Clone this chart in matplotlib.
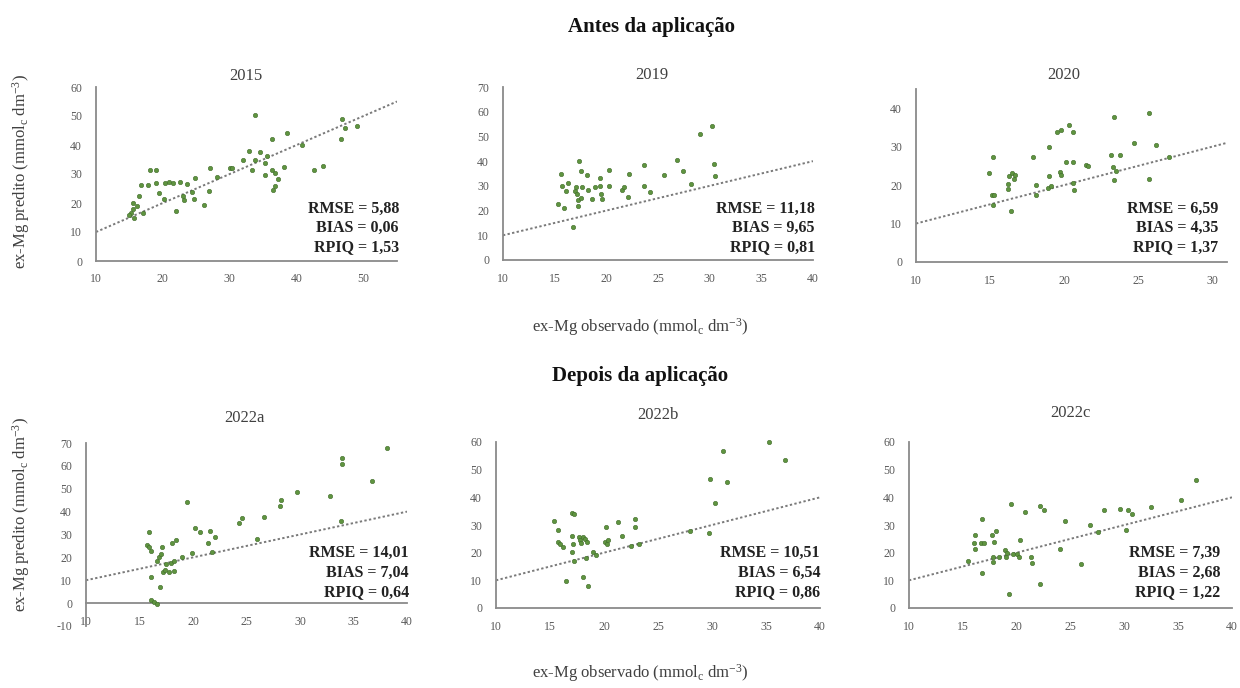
import matplotlib
matplotlib.use("Agg")
import matplotlib.pyplot as plt
import numpy as np

plt.rcParams['font.family'] = ['Liberation Serif', 'DejaVu Serif']
plt.rcParams['mathtext.fontset'] = 'custom'
plt.rcParams['mathtext.rm'] = 'Liberation Serif'
plt.rcParams['mathtext.it'] = 'Liberation Serif:italic'
plt.rcParams['axes.unicode_minus'] = False

# ---------------- data ----------------
titles = ['2015', '2019', '2020', '2022a', '2022b', '2022c']
rmse = ['5,88', '11,18', '6,59', '14,01', '10,51', '7,39']
bias = ['0,06', '9,65', '4,35', '7,04', '6,54', '2,68']
rpiq = ['1,53', '0,81', '1,37', '0,64', '0,86', '1,22']

obs_2015 = [15.6, 15.2, 15.0, 15.5, 15.7, 16.2, 16.5, 16.8, 17.1, 17.8, 18.1, 19.0, 19.0, 19.4,
            20.1, 20.3, 20.9, 21.5, 22.5, 22.0, 23.0, 23.1, 23.6, 24.4, 24.7, 24.8, 26.2, 26.9,
            27.0, 28.1, 30.0, 30.3, 32.0, 32.9, 33.3, 33.7, 33.8, 34.5, 35.3, 35.3, 35.5, 36.3,
            36.3, 36.4, 36.7, 37.2, 36.8, 38.1, 38.6, 40.8, 42.6, 44.0, 46.8, 47.3, 46.6, 49.0]
pred_2015 = [20.0, 16.5, 16.0, 17.9, 14.8, 18.8, 22.3, 26.2, 16.7, 26.2, 31.5, 31.5, 26.9, 23.4,
             21.3, 26.9, 27.1, 26.9, 27.1, 17.4, 22.5, 21.1, 26.5, 23.7, 21.3, 28.6, 19.2, 24.0,
             32.0, 29.0, 32.0, 32.0, 35.0, 37.8, 31.3, 35.0, 50.5, 37.5, 33.8, 29.8, 36.1, 41.9,
             31.5, 24.6, 25.7, 28.3, 30.3, 32.4, 44.2, 39.9, 31.5, 32.9, 49.0, 45.9, 41.9, 46.5]

obs_2019 = [15.65, 15.3, 15.9, 15.7, 16.1, 16.3, 16.8, 17.0, 17.1, 17.2, 17.3, 17.3, 17.4, 17.5,
            17.6, 17.5, 18.1, 18.2, 18.6, 18.9, 19.4, 19.4, 19.5, 19.6, 20.3, 20.3, 21.5, 21.7,
            22.1, 22.2, 23.6, 23.6, 24.2, 25.6, 26.8, 27.4, 28.2, 29.1, 30.2, 30.4, 30.5]
pred_2019 = [35.0, 22.6, 20.9, 29.9, 28.0, 31.0, 13.2, 28.0, 29.6, 26.9, 24.2, 21.9, 40.0, 36.1,
             29.6, 24.9, 34.3, 28.3, 24.5, 29.6, 29.9, 33.0, 26.9, 24.5, 36.3, 29.9, 28.5, 29.6,
             25.6, 35.0, 38.4, 30.1, 27.6, 34.2, 40.4, 35.9, 30.7, 51.1, 54.1, 39.0, 33.9]

obs_2020 = [14.94, 15.2, 15.1, 15.3, 15.2, 16.2, 16.2, 16.3, 16.5, 16.6, 16.4, 16.7, 17.9, 18.1,
            18.1, 19.0, 19.0, 18.9, 19.1, 19.5, 19.8, 19.7, 19.8, 20.1, 20.3, 20.6, 20.6, 20.6,
            20.7, 21.5, 21.6, 23.4, 23.2, 23.75, 23.3, 23.5, 23.4, 24.7, 25.7, 25.7, 26.2, 27.1]
pred_2020 = [23.1, 27.3, 17.5, 17.5, 14.7, 20.3, 19.0, 22.3, 23.1, 21.6, 13.2, 22.6, 27.2, 20.1,
             17.5, 29.9, 22.3, 19.2, 19.8, 33.7, 34.4, 23.5, 22.7, 25.9, 35.7, 33.7, 26.1, 20.5,
             18.8, 25.3, 25.0, 37.8, 27.9, 27.9, 24.7, 23.8, 21.4, 30.9, 38.7, 21.6, 30.4, 27.2]

obs_2022a = [15.9, 15.7, 15.9, 16.1, 16.05, 16.1, 16.4, 16.6, 16.6, 16.8, 16.9, 17.0, 17.1, 17.2,
             17.4, 17.5, 17.8, 17.9, 18.0, 18.2, 18.2, 18.4, 19.0, 19.4, 19.9, 20.2, 20.7, 21.4,
             21.6, 21.8, 22.1, 24.3, 24.6, 26.0, 26.6, 28.1, 28.2, 29.7, 32.8, 33.9, 33.9, 33.8,
             36.7, 38.1]
pred_2022a = [31.2, 25.4, 24.4, 22.9, 11.6, 1.5, 0.7, -0.3, 18.2, 20.3, 7.0, 21.5, 24.4, 13.8,
              14.5, 17.1, 13.4, 17.7, 26.4, 14.2, 18.2, 27.6, 20.3, 44.0, 21.8, 32.7, 31.2, 26.1,
              31.7, 22.5, 28.8, 34.9, 37.0, 27.9, 37.8, 42.4, 45.0, 48.6, 46.8, 63.6, 61.0, 36.0,
              53.3, 68.0]

obs_2022b = [15.4, 15.7, 15.7, 15.9, 16.2, 16.5, 17.0, 17.2, 17.0, 17.1, 17.0, 17.2, 17.7, 17.8,
             17.9, 18.1, 18.2, 18.4, 18.1, 18.3, 18.5, 19.0, 19.3, 20.1, 20.2, 20.3, 20.4, 21.3,
             21.7, 22.5, 22.9, 22.9, 23.2, 28.0, 29.7, 29.8, 30.3, 31.0, 31.4, 35.3, 36.8]
pred_2022b = [31.6, 28.2, 23.9, 23.1, 22.1, 9.8, 34.2, 34.0, 26.0, 23.1, 20.3, 17.0, 25.8, 24.5,
              23.6, 25.5, 24.8, 23.9, 11.2, 18.1, 7.9, 20.3, 19.1, 23.9, 29.4, 23.1, 24.5, 31.0,
              26.2, 22.5, 32.0, 29.4, 23.1, 27.8, 27.0, 46.6, 37.8, 56.9, 45.5, 59.9, 53.6]

obs_2022c = [15.5, 16.0, 16.1, 16.1, 16.8, 16.8, 16.7, 17.0, 17.7, 17.9, 17.8, 17.8, 18.1, 18.4,
             18.9, 19.0, 19.1, 19.3, 19.5, 19.7, 20.0, 20.3, 20.2, 20.8, 21.3, 21.4, 22.2, 22.5,
             22.2, 24.0, 24.5, 26.0, 26.8, 27.6, 28.1, 29.6, 30.2, 30.3, 30.7, 32.5, 35.3, 36.7]
pred_2022c = [17.0, 23.6, 26.4, 21.2, 32.0, 12.8, 23.6, 23.6, 26.4, 23.9, 18.5, 16.7, 27.9, 18.5,
              20.9, 18.3, 20.0, 5.0, 37.5, 19.5, 19.5, 24.5, 18.5, 34.7, 18.5, 16.3, 36.9, 35.4,
              8.5, 21.2, 31.4, 15.8, 29.9, 27.6, 35.4, 35.7, 28.2, 35.4, 33.9, 36.4, 39.1, 46.3]

observed = [obs_2015, obs_2019, obs_2020, obs_2022a, obs_2022b, obs_2022c]
predicted = [pred_2015, pred_2019, pred_2020, pred_2022a, pred_2022b, pred_2022c]

x_limits = [(10, 55), (10, 40), (10, 31), (10, 40), (10, 40), (10, 40)]
x_ticks = [[10, 20, 30, 40, 50], [10, 15, 20, 25, 30, 35, 40], [10, 15, 20, 25, 30],
           [10, 15, 20, 25, 30, 35, 40], [10, 15, 20, 25, 30, 35, 40], [10, 15, 20, 25, 30, 35, 40]]
y_limits = [(0, 60), (0, 70), (0, 45), (-10, 70), (0, 60), (0, 60)]
y_ticks = [list(range(0, 61, 10)), list(range(0, 71, 10)), list(range(0, 41, 10)),
           list(range(-10, 71, 10)), list(range(0, 61, 10)), list(range(0, 61, 10))]

# ---------------- layout (pixels) ----------------
W, H = 1240, 688
fig = plt.figure(figsize=(W / 100, H / 100), dpi=100)

def fx(px):
    return px / W

def fy(py):
    return 1 - py / H

# left, right, top, bottom in pixels
boxes = [(96, 397, 87, 261), (503, 813, 87, 260), (916, 1227, 89, 262),
         (86, 407, 443, 626), (496, 820, 442, 608), (909, 1232, 442, 608)]
title_pos = [(246, 76), (652, 75), (1064, 75), (244, 418), (658, 415), (1070, 413)]
stat_right = [399, 815, 1218, 409, 820, 1220]
stat_rows_top = [209, 228, 247]
stat_rows_bot = [553, 573, 592]

green = '#5f9440'
axis_col = '#8a8a8a'
text_col = '#404040'

for i in range(6):
    l, r, t, b = boxes[i]
    ax = fig.add_axes([fx(l), fy(b), fx(r) - fx(l), (b - t) / H])
    ax.set_xlim(*x_limits[i])
    ax.set_ylim(*y_limits[i])
    ax.set_xticks(x_ticks[i])
    ax.set_yticks(y_ticks[i])
    for s in ['top', 'right']:
        ax.spines[s].set_visible(False)
    for s in ['left', 'bottom']:
        ax.spines[s].set_color(axis_col)
        ax.spines[s].set_linewidth(1.3)
    if y_limits[i][0] < 0:
        ax.spines['bottom'].set_position(('data', 0))
    ax.tick_params(axis='both', length=0, labelsize=8.5, labelcolor='#595959')
    ax.tick_params(axis='x', pad=9)
    ax.tick_params(axis='y', pad=10)
    ax.patch.set_alpha(0)

    x0, x1 = x_limits[i]
    ax.plot([x0, x1], [x0, x1], linestyle=(0, (1.2, 1.2)), color='#7a7a7a', lw=1.4, zorder=2)
    ax.scatter(observed[i], predicted[i], s=10, color=green, edgecolors='#3f6b2a',
               linewidths=0.4, zorder=3, clip_on=False)

    tx, ty = title_pos[i]
    fig.text(fx(tx), fy(ty), titles[i], ha='center', va='center', fontsize=12, color=text_col)

    rows = stat_rows_top if i < 3 else stat_rows_bot
    lines = ['RMSE = ' + rmse[i], 'BIAS = ' + bias[i], 'RPIQ = ' + rpiq[i]]
    for yy, txt in zip(rows, lines):
        fig.text(fx(stat_right[i]), fy(yy), txt, ha='right', va='center', fontsize=11.5,
                 fontweight='bold', color='#222222')

fig.text(fx(651), fy(27), 'Antes da aplicação', ha='center', va='center', fontsize=15,
         fontweight='bold', color='#111111')
fig.text(fx(640), fy(376), 'Depois da aplicação', ha='center', va='center', fontsize=15,
         fontweight='bold', color='#111111')

xlab = r'ex-Mg observado (mmol$_{\mathrm{c}}$ dm$^{\mathrm{-3}}$)'
ylab = r'ex-Mg predito (mmol$_{\mathrm{c}}$ dm$^{\mathrm{-3}}$)'
fig.text(fx(640), fy(327), xlab, ha='center', va='center', fontsize=12, color=text_col)
fig.text(fx(640), fy(673), xlab, ha='center', va='center', fontsize=12, color=text_col)
fig.text(fx(21), fy(172), ylab, ha='center', va='center', rotation=90, fontsize=12, color=text_col)
fig.text(fx(21), fy(515), ylab, ha='center', va='center', rotation=90, fontsize=12, color=text_col)

fig.savefig('out.png', dpi=100, facecolor='white')
